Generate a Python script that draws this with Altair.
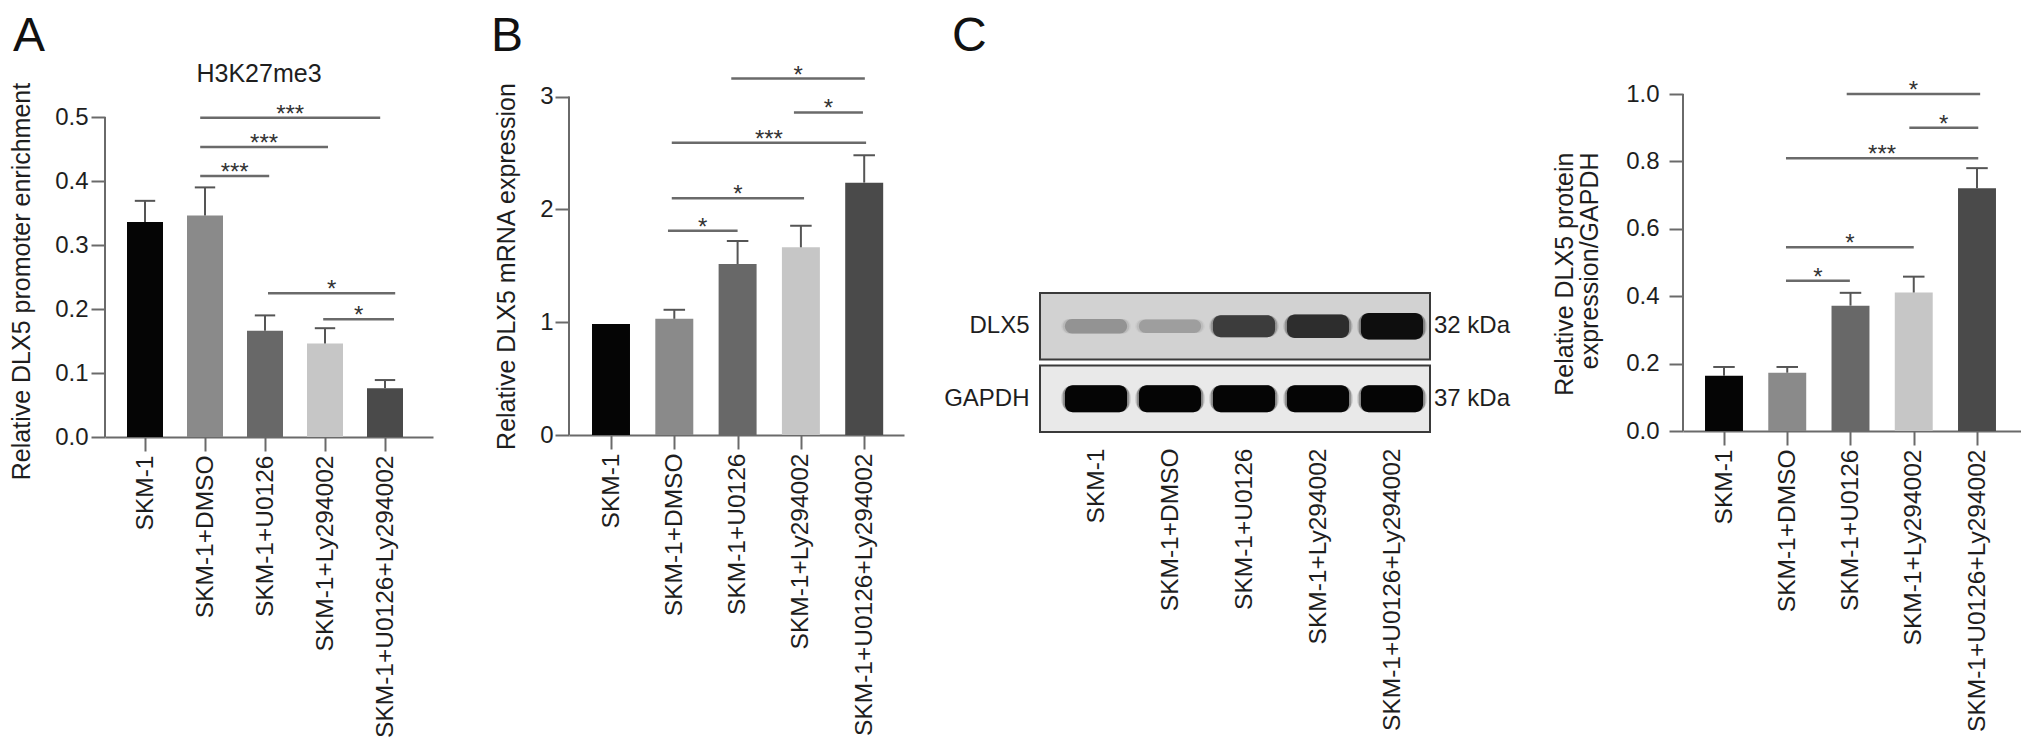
import json
import altair as alt
import pandas as pd

# ---------------- data ----------------
CATEGORIES = ["SKM-1", "SKM-1+DMSO", "SKM-1+U0126", "SKM-1+Ly294002", "SKM-1+U0126+Ly294002"]

# Panel A  (H3K27me3 ChIP)
A_MEAN = [0.336, 0.346, 0.166, 0.146, 0.076]
A_UPPER = [0.369, 0.390, 0.190, 0.170, 0.089]
A_SIG_START = [0.92, 0.92, 0.92, 2.05, 2.97]
A_SIG_END = [3.92, 3.05, 2.07, 4.17, 4.15]
A_SIG_Y = [0.499, 0.453, 0.408, 0.2245, 0.184]
A_SIG_LABEL = ["***", "***", "***", "*", "*"]
A_TICKS = [0.0, 0.1, 0.2, 0.3, 0.4, 0.5]

# Panel B  (mRNA)
B_MEAN = [0.985, 1.03, 1.516, 1.664, 2.237]
B_UPPER = [0.985, 1.11, 1.72, 1.855, 2.48]
B_SIG_START = [1.90, 2.89, 0.96, 0.96, 0.90]
B_SIG_END = [4.01, 3.98, 4.03, 3.05, 2.00]
B_SIG_Y = [3.16, 2.86, 2.59, 2.098, 1.81]
B_SIG_LABEL = ["*", "*", "***", "*", "*"]
B_TICKS = [0, 1, 2, 3]

# Panel C  (protein / GAPDH)
C_MEAN = [0.164, 0.173, 0.372, 0.411, 0.720]
C_UPPER = [0.190, 0.190, 0.410, 0.458, 0.780]
C_SIG_START = [1.94, 2.93, 0.98, 0.98, 0.98]
C_SIG_END = [4.05, 4.02, 4.02, 3.00, 1.99]
C_SIG_Y = [1.0, 0.90, 0.809, 0.545, 0.446]
C_SIG_LABEL = ["*", "*", "***", "*", "*"]
C_TICKS = [0.0, 0.2, 0.4, 0.6, 0.8, 1.0]

# Western blot
BLOT_ROWS = ["DLX5", "GAPDH"]
BLOT_KDA = ["32 kDa", "37 kDa"]
DLX5_BAND = [0.30, 0.25, 0.72, 0.80, 0.97]
GAPDH_BAND = [1.0, 1.0, 1.0, 1.0, 1.0]

# ---------------- styles ----------------
BAR_COLORS = ["#050505", "#8a8a8a", "#686868", "#c6c6c6", "#4a4a4a"]
ROW_BG = ["#d2d2d2", "#e9e9e9"]
AXIS_COLOR = "#6a6a6a"
TEXT_COLOR = "#1e1e1e"
FONT = "Liberation Sans"
LETTER_SIZE = 48
LETTER_Y = -43
NO_FRAME = alt.ViewBackground(stroke="transparent", strokeWidth=0)

LABEL_EXPR = json.dumps(CATEGORIES) + "[datum.value]"


def bar_panel(mean, upper, s_start, s_end, s_y, s_lab, ticks, fmt, title,
              width, height, left_px, step_px, px_per_unit,
              letter, letter_x, title_x, title_y, title_align, y_label_pad,
              extra_title=None):
    n = len(mean)
    x_dom = [-left_px / step_px, (width - left_px) / step_px]
    y_dom = [0, height / px_per_unit]
    xs = alt.Scale(domain=x_dom, nice=False, zero=False)
    ys = alt.Scale(domain=y_dom, nice=False, zero=False)

    xax = alt.Axis(values=list(range(n)), labelExpr=LABEL_EXPR, labelAngle=270,
                   labelFontSize=24.5, labelColor=TEXT_COLOR, labelPadding=4,
                   labelFlush=False, labelOverlap=False, labelLimit=0,
                   tickSize=14, tickWidth=2, tickColor=AXIS_COLOR,
                   domainColor=AXIS_COLOR, domainWidth=2, grid=False, title=None)
    yax = alt.Axis(values=ticks, format=fmt, labelFontSize=24, labelColor=TEXT_COLOR,
                   labelPadding=y_label_pad, labelFlush=False, labelOverlap=False,
                   tickSize=14, tickWidth=2, tickColor=AXIS_COLOR,
                   domain=False, grid=False, title=title, titleFontSize=25,
                   titleFontWeight="normal", titleColor=TEXT_COLOR,
                   titleX=title_x, titleY=title_y, titleAlign=title_align,
                   titleBaseline="alphabetic", titleAngle=270, titleLineHeight=25,
                   titleLimit=0)

    df = pd.DataFrame({"idx": list(range(n)), "mean": mean, "upper": upper,
                       "shade": BAR_COLORS[:n]})
    base = alt.Chart(df)

    bars = base.transform_calculate(
        x1="datum.idx - 0.3", x2="datum.idx + 0.3", zero="0"
    ).mark_rect().encode(
        x=alt.X("x1:Q", scale=xs, axis=xax),
        x2="x2:Q",
        y=alt.Y("mean:Q", scale=ys, axis=yax),
        y2="zero:Q",
        color=alt.Color("shade:N", scale=None),
    )

    err = base.transform_filter("datum.upper > datum.mean").mark_rule(
        color="#555555", strokeWidth=2
    ).encode(
        x=alt.X("idx:Q", scale=xs, axis=xax),
        y=alt.Y("mean:Q", scale=ys, axis=yax),
        y2="upper:Q",
    )
    caps = base.transform_filter("datum.upper > datum.mean").transform_calculate(
        c1="datum.idx - 0.17", c2="datum.idx + 0.17"
    ).mark_rule(color="#555555", strokeWidth=2).encode(
        x=alt.X("c1:Q", scale=xs, axis=xax),
        x2="c2:Q",
        y=alt.Y("upper:Q", scale=ys, axis=yax),
    )

    sig_df = pd.DataFrame({"start": s_start, "end": s_end, "y": s_y, "label": s_lab})
    sig_base = alt.Chart(sig_df)
    sig_lines = sig_base.mark_rule(color=AXIS_COLOR, strokeWidth=2.5).encode(
        x=alt.X("start:Q", scale=xs, axis=xax),
        x2="end:Q",
        y=alt.Y("y:Q", scale=ys, axis=yax),
    )
    sig_text = sig_base.transform_calculate(
        mid="(datum.start + datum.end) / 2"
    ).mark_text(fontSize=24, baseline="alphabetic", align="center", dy=4,
                color="#333333").encode(
        x=alt.X("mid:Q", scale=xs, axis=xax),
        y=alt.Y("y:Q", scale=ys, axis=yax),
        text="label:N",
    )

    yline = alt.Chart(pd.DataFrame({"lo": [ticks[0]], "hi": [ticks[-1]]})).mark_rule(
        color=AXIS_COLOR, strokeWidth=2
    ).encode(
        x=alt.value(0),
        y=alt.Y("lo:Q", scale=ys, axis=yax),
        y2="hi:Q",
    )

    layers = [bars, err, caps, sig_lines, sig_text, yline]
    if letter:
        layers.append(
            alt.Chart(pd.DataFrame({"t": [letter]})).mark_text(
                fontSize=LETTER_SIZE, align="left", baseline="alphabetic", color="#111111"
            ).encode(x=alt.value(letter_x), y=alt.value(LETTER_Y), text="t:N")
        )
    if extra_title is not None:
        layers.append(
            alt.Chart(pd.DataFrame({"t": [extra_title[0]]})).mark_text(
                fontSize=25, align="center", baseline="alphabetic", color=TEXT_COLOR
            ).encode(x=alt.value(extra_title[1]), y=alt.value(extra_title[2]), text="t:N")
        )
    return alt.layer(*layers).properties(width=width, height=height, view=NO_FRAME)


panel_a = bar_panel(A_MEAN, A_UPPER, A_SIG_START, A_SIG_END, A_SIG_Y, A_SIG_LABEL,
                    A_TICKS, ".1f", "Relative DLX5 promoter enrichment",
                    width=328, height=343, left_px=40, step_px=60, px_per_unit=640,
                    letter="A", letter_x=-92, title_x=-76, title_y=187,
                    title_align="center", y_label_pad=3,
                    extra_title=("H3K27me3", 154, -12))

panel_b = bar_panel(B_MEAN, B_UPPER, B_SIG_START, B_SIG_END, B_SIG_Y, B_SIG_LABEL,
                    B_TICKS, "d", "Relative DLX5 mRNA expression",
                    width=335, height=341, left_px=42, step_px=63.3, px_per_unit=112.8,
                    letter="B", letter_x=-78, title_x=-55, title_y=172,
                    title_align="center", y_label_pad=2)

panel_c = bar_panel(C_MEAN, C_UPPER, C_SIG_START, C_SIG_END, C_SIG_Y, C_SIG_LABEL,
                    C_TICKS, ".1f", ["Relative DLX5 protein", "expression/GAPDH"],
                    width=338, height=337, left_px=41, step_px=63.25, px_per_unit=337,
                    letter="", letter_x=0, title_x=-111, title_y=58,
                    title_align="right", y_label_pad=10)

# ---------------- western blot panel ----------------
BLOT_W, BLOT_H = 507, 338
LANE_STEP, LANE_LEFT, MEMBRANE_W = 74, 56, 390
n_lanes = len(CATEGORIES)
x_min = -LANE_LEFT / LANE_STEP
x_mem = (MEMBRANE_W - LANE_LEFT) / LANE_STEP
bx = alt.Scale(domain=[x_min, (BLOT_W - LANE_LEFT) / LANE_STEP], nice=False, zero=False)
by = alt.Scale(domain=BLOT_ROWS, range=[199, 338], paddingInner=0.085, paddingOuter=0)

bx_ax = alt.Axis(values=list(range(n_lanes)), labelExpr=LABEL_EXPR, labelAngle=270,
                 labelFontSize=24.5, labelColor=TEXT_COLOR, labelPadding=16,
                 labelFlush=False, labelOverlap=False, labelLimit=0, domain=False,
                 ticks=False, tickSize=0, grid=False, title=None)
by_ax = alt.Axis(domain=False, ticks=False, tickSize=0, labelPadding=11,
                 labelFontSize=24, labelColor=TEXT_COLOR, grid=False, title=None)

rows_df = pd.DataFrame({"row": BLOT_ROWS, "kda": BLOT_KDA, "bg": ROW_BG,
                        "f1": [x_min] * 2, "f2": [x_mem] * 2})
bands_df = pd.DataFrame({
    "row": [BLOT_ROWS[0]] * n_lanes + [BLOT_ROWS[1]] * n_lanes,
    "lane": list(range(n_lanes)) * 2,
    "intensity": DLX5_BAND + GAPDH_BAND,
})

frames = alt.Chart(rows_df).mark_rect(stroke="#3a3a3a", strokeWidth=2).encode(
    x=alt.X("f1:Q", scale=bx, axis=bx_ax), x2="f2:Q",
    y=alt.Y("row:N", scale=by, axis=by_ax, sort=BLOT_ROWS),
    fill=alt.Fill("bg:N", scale=None),
)

band_color = alt.Color("intensity:Q",
                       scale=alt.Scale(domain=[0, 1], range=["#d8d8d8", "#050505"]),
                       legend=None)
bands_base = alt.Chart(bands_df).transform_calculate(
    o1="datum.lane - 0.47", o2="datum.lane + 0.47",
    l1="datum.lane - 0.45", l2="datum.lane + 0.45",
    m1="datum.lane - 0.42", m2="datum.lane + 0.42",
)


def band_layer(f1, f2, rng, opacity, radius):
    return bands_base.mark_bar(cornerRadius=radius, opacity=opacity,
                               orient="horizontal").encode(
        x=alt.X(f1 + ":Q", scale=bx, axis=bx_ax), x2=f2 + ":Q",
        y=alt.Y("row:N", scale=by, axis=by_ax, sort=BLOT_ROWS),
        color=band_color,
        size=alt.Size("intensity:Q", scale=alt.Scale(domain=[0, 1], range=rng), legend=None),
    )


bands_1 = band_layer("o1", "o2", [9, 27], 0.12, 12)
bands_2 = band_layer("l1", "l2", [7, 22], 0.3, 10)
bands_3 = band_layer("m1", "m2", [4, 17], 1.0, 8)

kda = alt.Chart(rows_df).mark_text(fontSize=24, align="left", baseline="middle",
                                   color=TEXT_COLOR).encode(
    x=alt.value(MEMBRANE_W + 4),
    y=alt.Y("row:N", scale=by, axis=by_ax, sort=BLOT_ROWS),
    text="kda:N",
)
letter_c = alt.Chart(pd.DataFrame({"t": ["C"]})).mark_text(
    fontSize=LETTER_SIZE, align="left", baseline="alphabetic", color="#111111"
).encode(x=alt.value(-88), y=alt.value(LETTER_Y), text="t:N")

blot = alt.layer(frames, bands_1, bands_2, bands_3, kda, letter_c).properties(
    width=BLOT_W, height=BLOT_H, view=NO_FRAME
)

chart = alt.hconcat(
    panel_a, panel_b, blot, panel_c, spacing=136, bounds="flush",
    padding={"top": 5, "left": 0, "right": 0, "bottom": 0},
).configure_view(stroke="transparent", strokeWidth=0).configure(font=FONT)

chart.save("out.html", embed_options={"renderer": "svg", "actions": False})
